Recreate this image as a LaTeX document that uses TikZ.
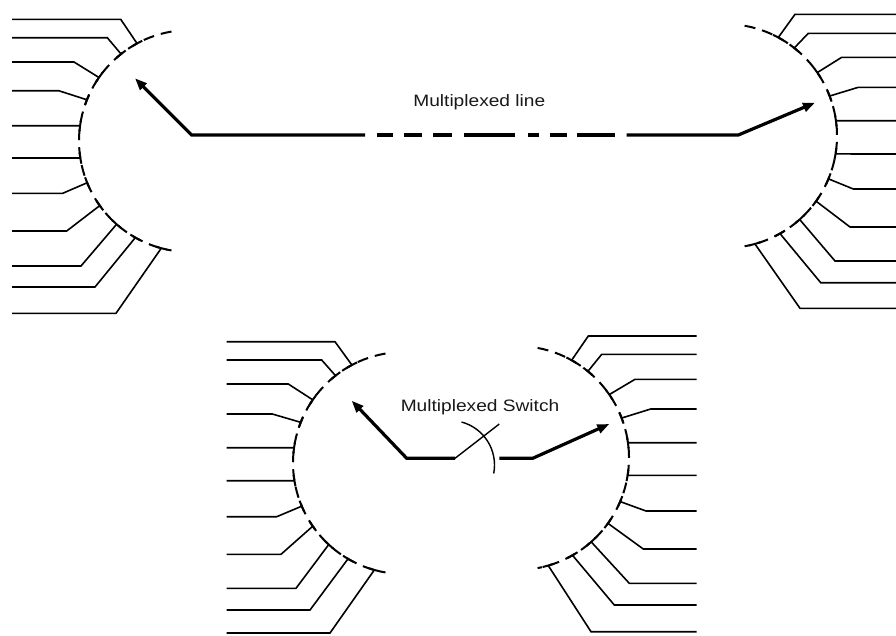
\documentclass[tikz,border=0pt]{standalone}
\usepackage{fontspec}
\newfontfamily\labfont[FakeStretch=1.16]{Liberation Sans}
\usetikzlibrary{arrows.meta}
\tikzset{
  feeder/.style={line width=1.6pt, line join=miter},
  arcdash/.style={line width=2pt, dash pattern=on 11pt off 7pt},
  tickmark/.style={line width=2pt},
  bigline/.style={line width=3.2pt, line join=miter},
  bigarrow/.style={bigline, -{Triangle[length=12pt,width=9pt]}},
  thinline/.style={line width=1.4pt},
  lbl/.style={font=\labfont\fontsize{16.5}{19}\selectfont, inner sep=0pt, anchor=base, text=black!90}
}
\newcommand{\drawunit}[6]{%
  \draw[arcdash] (#1) ++(#3:#2) arc[start angle=#3, end angle=#4, radius=#2];
  \foreach \a/\y/\e in {#6} {
    \path (#1) ++(\a:#2) coordinate (P);
    \draw[feeder] (#5,-\y) -- (\e,-\y) -- (P);
    \draw[tickmark] (#1) ++({\a-3}:#2) arc[start angle={\a-3}, end angle={\a+3}, radius=#2];
  }
}
\begin{document}
\begin{tikzpicture}[x=1pt,y=1pt]
\useasboundingbox (0,0) rectangle (896,-635);
\fill[white] (0,0) rectangle (896,-635);

\coordinate (TL) at (190,-141);
\coordinate (TR) at (725,-136);
\coordinate (BL) at (404,-463);
\coordinate (BR) at (517,-458);

% units
\drawunit{TL}{111}{99.6}{260.4}{12}{118.5/19.3/120.7, 128.4/37.7/107.3, 145.1/62/74, 158.2/90.7/58.7, 172.1/125.7/40, 188.8/158/40, 202.1/193.3/62.7, 215.6/231/66.7, 228.6/266/81, 240.5/287/95, 255/313.3/116}
\drawunit{TR}{112}{79.9}{-79.9}{896}{61.6/14.3/795, 51.8/33.3/808.3, 34.5/57.3/841.7, 20.9/87.3/858.3, 7.85/120.7/870, -9.2/154/870, -22.5/189/853.3, -35.6/227/850, -48.2/261/835, -60.6/282.7/820.7, -74.5/308.3/800}
\drawunit{BL}{111}{99.6}{260.4}{226.7}{118/341.7/335, 128.1/360/321.7, 145.3/384/288.3, 158.5/414/272.3, 172.1/447.7/250, 189.2/480.7/250, 202.9/516.7/276.7, 214.7/554.3/281, 227.3/588.3/296, 239.7/610/310, 254.5/633/330}
\drawunit{BR}{112}{79.4}{-79.4}{696.7}{60.8/336/588.3, 50.7/354.3/601.7, 34.5/379.3/635, 20.9/409/650.7, 7.85/442.7/670, -8.9/475.3/670, -22.9/511/646, -35.7/549/643.3, -48.5/583.3/629.3, -60.3/605/614.3, -73.8/631.7/591}

% multiplexed line
\coordinate (tlTip) at (135,-78.3);
\coordinate (tlBend) at (191.7,-135);
\coordinate (mA) at (365,-135);
\coordinate (mB) at (626.7,-135);
\coordinate (trBend) at (738.3,-135);
\coordinate (trTip) at (815,-102.7);
\draw[bigarrow] (mA) -- (tlBend) -- (tlTip);
\draw[bigarrow] (mB) -- (trBend) -- (trTip);
\foreach \s/\t in {376.7/393.3, 404/421.7, 433.3/451.7, 464/515, 528.3/539.3, 550/566.7, 576.7/615}
  \draw[bigline] (\s,-135) -- (\t,-135);
\node[lbl] (linelabel) at (479.3,-106) {Multiplexed line};

% multiplexed switch
\coordinate (blTip) at (351.7,-400.7);
\coordinate (blBend) at (406.7,-458.3);
\coordinate (pivot) at (455,-458.3);
\coordinate (bladeEnd) at (499.3,-424);
\coordinate (contact) at (499.3,-458.3);
\coordinate (brBend) at (532.7,-458.3);
\coordinate (brTip) at (609.3,-424);
\coordinate (swC) at (450,-465);
\draw[bigarrow] (pivot) -- (blBend) -- (blTip);
\draw[bigarrow] (contact) -- (brBend) -- (brTip);
\draw[thinline] (pivot) -- (bladeEnd);
\draw[thinline] (swC) ++(75:44.5) arc[start angle=75, end angle=-11, radius=44.5];
\node[lbl] (switchlabel) at (480,-411) {Multiplexed Switch};
\end{tikzpicture}
\end{document}
